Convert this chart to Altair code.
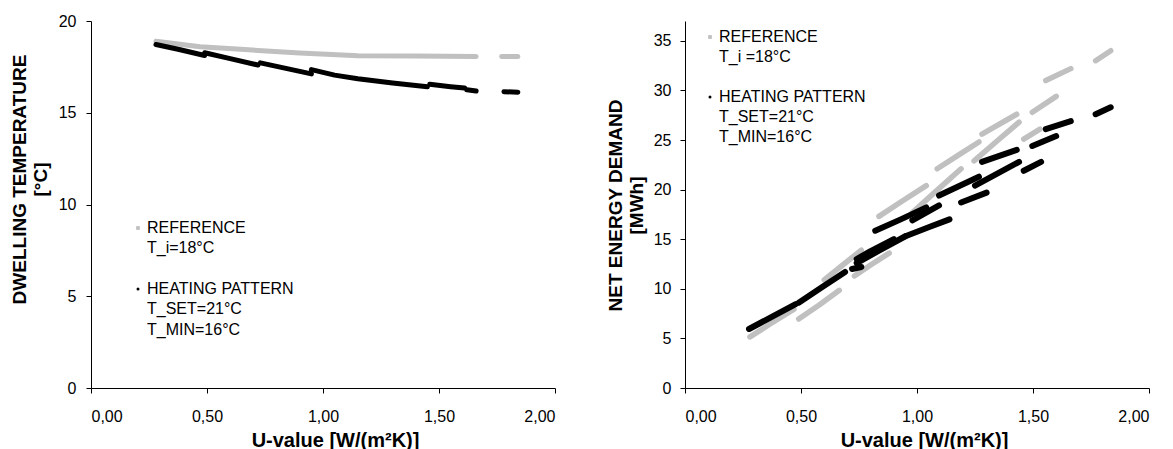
import altair as alt
import pandas as pd

# ---------------- data ----------------
x_ticks = [0.0, 0.5, 1.0, 1.5, 2.0]
left_y_ticks = [0, 5, 10, 15, 20]
right_y_ticks = [0, 5, 10, 15, 20, 25, 30, 35]

# Left panel: dwelling temperature [°C] vs U-value
left_ref_streaks = [
    [(0.28, 18.90), (0.47, 18.60), (0.68, 18.43), (0.90, 18.25), (1.15, 18.11), (1.40, 18.09), (1.66, 18.07)],
    [(1.77, 18.07), (1.84, 18.06)],
]
left_heat_streaks = [
    [(0.28, 18.72), (0.38, 18.45), (0.49, 18.12)],
    [(0.49, 18.27), (0.60, 17.95), (0.72, 17.60)],
    [(0.73, 17.72), (0.84, 17.42), (0.95, 17.12)],
    [(0.95, 17.35), (1.05, 17.05), (1.15, 16.85), (1.30, 16.62), (1.45, 16.42)],
    [(1.46, 16.55), (1.55, 16.42), (1.61, 16.35)],
    [(1.62, 16.25), (1.66, 16.18)],
    [(1.78, 16.15), (1.84, 16.12)],
]

# Right panel: net energy demand [MWh] vs U-value
right_ref_streaks = [
    [(0.28, 5.15), (0.37, 6.50), (0.47, 7.95)],
    [(0.49, 6.95), (0.58, 8.40), (0.665, 9.85)],
    [(0.60, 10.9), (0.68, 12.4), (0.76, 13.9)],
    [(0.73, 11.3), (0.80, 12.4), (0.88, 13.6)],
    [(0.836, 17.3), (0.94, 18.9), (1.04, 20.4)],
    [(0.98, 17.7), (1.08, 19.8), (1.19, 22.1)],
    [(1.087, 22.1), (1.18, 23.5), (1.267, 24.8)],
    [(1.246, 22.9), (1.34, 24.8), (1.44, 26.8)],
    [(1.28, 25.6), (1.43, 27.6)],
    [(1.46, 25.1), (1.53, 26.1)],
    [(1.497, 27.8), (1.60, 29.4)],
    [(1.555, 31.0), (1.663, 32.2)],
    [(1.77, 33.0), (1.835, 34.0)],
]
right_heat_streaks = [
    [(0.276, 5.95), (0.38, 7.25), (0.477, 8.45)],
    [(0.49, 8.60), (0.59, 10.15), (0.69, 11.7)],
    [(0.72, 12.0), (0.76, 12.2)],
    [(0.74, 12.6), (0.84, 13.9), (0.95, 15.3)],
    [(0.74, 13.0), (0.80, 13.8), (0.90, 15.0)],
    [(0.82, 15.86), (0.93, 17.0), (1.04, 18.2)],
    [(0.95, 15.3), (1.05, 16.2), (1.14, 17.0)],
    [(0.98, 16.9), (1.095, 18.4)],
    [(1.095, 19.4), (1.267, 21.3)],
    [(1.19, 18.7), (1.30, 19.7)],
    [(1.25, 20.4), (1.44, 22.8)],
    [(1.28, 22.8), (1.43, 24.0)],
    [(1.46, 21.9), (1.535, 22.8)],
    [(1.497, 24.4), (1.60, 25.4)],
    [(1.555, 26.1), (1.663, 26.9)],
    [(1.77, 27.6), (1.835, 28.3)],
]

legend_ref_left = ["REFERENCE", "T_i=18°C"]
legend_ref_right = ["REFERENCE", "T_i =18°C"]
legend_heat = ["HEATING PATTERN", "T_SET=21°C", "T_MIN=16°C"]

series_names = ["REFERENCE", "HEATING PATTERN"]
series_colors = ["#c0c0c0", "#000000"]

FONT = "Liberation Sans"


def to_df(streaks, series):
    rows = []
    for i, s in enumerate(streaks):
        for u, v in s:
            rows.append({"u": u, "v": v, "series": series, "seg": f"{series}-{i}"})
    return pd.DataFrame(rows)


def panel(ref_streaks, heat_streaks, y_ticks, y_domain, y_title, y_title_x, y_title_y,
          x_title_x, legend_ref, legend_pos, label_pad_y, widths):
    df = pd.concat([to_df(ref_streaks, series_names[0]), to_df(heat_streaks, series_names[1])])
    x_enc = alt.X(
        "u:Q",
        scale=alt.Scale(domain=[0, 2], nice=False, zero=True),
        axis=alt.Axis(
            values=x_ticks,
            labelExpr="replace(format(datum.value, '.2f'), '.', ',')",
            title="U-value [W/(m²K)]",
            titleX=x_title_x,
            titleY=58,
            titleAlign="center",
            titleBaseline="alphabetic",
            titleFontSize=20,
            labelPadding=15,
        ),
    )
    y_enc = alt.Y(
        "v:Q",
        scale=alt.Scale(domain=y_domain, nice=False),
        axis=alt.Axis(
            values=y_ticks,
            title=y_title,
            titleX=y_title_x,
            titleY=y_title_y,
            titleAngle=270,
            titleAlign="center",
            titleBaseline="bottom",
            titleFontSize=19,
            titleLineHeight=21,
            labelPadding=label_pad_y,
        ),
    )
    color = alt.Color("series:N", scale=alt.Scale(domain=series_names, range=series_colors), legend=None)
    ref_line = (
        alt.Chart(df[df.series == series_names[0]])
        .mark_line(strokeWidth=widths[0], strokeCap="round", strokeJoin="round")
        .encode(x=x_enc, y=y_enc, color=color, detail="seg:N")
    )
    heat_line = (
        alt.Chart(df[df.series == series_names[1]])
        .mark_line(strokeWidth=widths[1], strokeCap="round", strokeJoin="round")
        .encode(x=x_enc, y=y_enc, color=color, detail="seg:N")
    )
    lx, ly, step = legend_pos
    layers = [ref_line, heat_line]
    layers.append(
        alt.Chart(df.head(1)).mark_square(size=14, color=series_colors[0], opacity=1)
        .encode(x=alt.value(lx - 9), y=alt.value(ly))
    )
    layers.append(
        alt.Chart(df.head(1)).mark_circle(size=9, color=series_colors[1], opacity=1)
        .encode(x=alt.value(lx - 9), y=alt.value(ly + 3 * step))
    )
    text_kw = dict(align="left", baseline="middle", font=FONT, fontSize=16, color="#000000")
    for i, t in enumerate(legend_ref):
        layers.append(
            alt.Chart(df.head(1)).mark_text(text=t, **text_kw)
            .encode(x=alt.value(lx), y=alt.value(ly + i * step))
        )
    for i, t in enumerate(legend_heat):
        layers.append(
            alt.Chart(df.head(1)).mark_text(text=t, **text_kw)
            .encode(x=alt.value(lx), y=alt.value(ly + (3 + i) * step))
        )
    return alt.layer(*layers).properties(width=464, height=367)


left = panel(
    left_ref_streaks, left_heat_streaks, left_y_ticks, [0, 20],
    ["DWELLING TEMPERATURE", "[°C]"], -62, 158, 244, legend_ref_left, (56, 207, 20.3), 10, (5, 5),
)
right = panel(
    right_ref_streaks, right_heat_streaks, right_y_ticks, [0, 37],
    ["NET ENERGY DEMAND", "[MWh]"], -60, 184, 239, legend_ref_right, (34, 16, 20), 9, (5.5, 6),
)

chart = (
    alt.hconcat(left, right, spacing=130, bounds="flush")
    .properties(padding={"left": 2, "top": 5, "right": 5, "bottom": 0})
    .configure_view(stroke=None)
    .configure_axis(
        grid=False,
        domainColor="#000000",
        tickColor="#000000",
        tickSize=5,
        labelColor="#000000",
        titleColor="#000000",
        labelFont=FONT,
        titleFont=FONT,
        labelFontSize=16,
        titleFontWeight="bold",
    )
)

chart.save("out.html", embed_options={"renderer": "svg", "actions": False})
